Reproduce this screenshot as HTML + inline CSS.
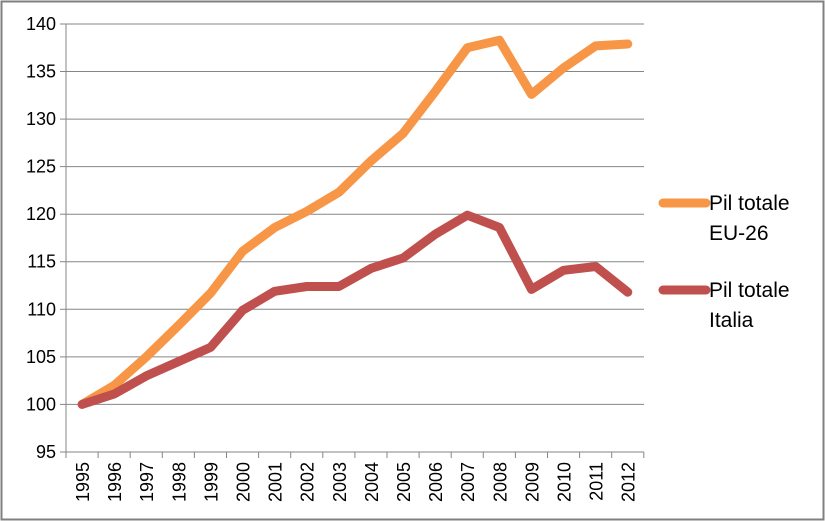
<!DOCTYPE html>
<html><head><style>body{margin:0;background:#fff}svg{display:block}text{font-family:"Liberation Sans",sans-serif;fill:#000}</style></head><body>
<svg width="825" height="521" viewBox="0 0 825 521" xmlns="http://www.w3.org/2000/svg">
<rect x="1.5" y="1.5" width="822" height="518" fill="#fff" stroke="#808080" stroke-width="2"/>
<g stroke="#868686" stroke-width="1">
<line x1="66" y1="24" x2="644" y2="24"/><line x1="66" y1="71.5" x2="644" y2="71.5"/><line x1="66" y1="119.1" x2="644" y2="119.1"/><line x1="66" y1="166.6" x2="644" y2="166.6"/><line x1="66" y1="214.2" x2="644" y2="214.2"/><line x1="66" y1="261.7" x2="644" y2="261.7"/><line x1="66" y1="309.3" x2="644" y2="309.3"/><line x1="66" y1="356.9" x2="644" y2="356.9"/><line x1="66" y1="404.4" x2="644" y2="404.4"/><line x1="60" y1="452" x2="644" y2="452"/>
<line x1="66" y1="24" x2="66" y2="452"/>
<line x1="60" y1="24" x2="66" y2="24"/><line x1="60" y1="71.5" x2="66" y2="71.5"/><line x1="60" y1="119.1" x2="66" y2="119.1"/><line x1="60" y1="166.6" x2="66" y2="166.6"/><line x1="60" y1="214.2" x2="66" y2="214.2"/><line x1="60" y1="261.7" x2="66" y2="261.7"/><line x1="60" y1="309.3" x2="66" y2="309.3"/><line x1="60" y1="356.9" x2="66" y2="356.9"/><line x1="60" y1="404.4" x2="66" y2="404.4"/>
<path d="M66 452v6M98.1 452v6M130.2 452v6M162.3 452v6M194.4 452v6M226.5 452v6M258.6 452v6M290.7 452v6M322.8 452v6M354.9 452v6M387 452v6M419.1 452v6M451.2 452v6M483.3 452v6M515.4 452v6M547.5 452v6M579.6 452v6M611.7 452v6M643.8 452v6"/>
</g>
<g font-size="18" text-anchor="end">
<text x="56" y="30">140</text><text x="56" y="77.5">135</text><text x="56" y="125">130</text><text x="56" y="172.6">125</text><text x="56" y="220.2">120</text><text x="56" y="267.7">115</text><text x="56" y="315.3">110</text><text x="56" y="362.9">105</text><text x="56" y="410.4">100</text><text x="56" y="458">95</text>
</g>
<g font-size="18" text-anchor="end">
<text transform="translate(89,462) rotate(-90)">1995</text><text transform="translate(121.1,462) rotate(-90)">1996</text><text transform="translate(153.2,462) rotate(-90)">1997</text><text transform="translate(185.3,462) rotate(-90)">1998</text><text transform="translate(217.4,462) rotate(-90)">1999</text><text transform="translate(249.5,462) rotate(-90)">2000</text><text transform="translate(281.6,462) rotate(-90)">2001</text><text transform="translate(313.7,462) rotate(-90)">2002</text><text transform="translate(345.8,462) rotate(-90)">2003</text><text transform="translate(377.9,462) rotate(-90)">2004</text><text transform="translate(410,462) rotate(-90)">2005</text><text transform="translate(442.1,462) rotate(-90)">2006</text><text transform="translate(474.2,462) rotate(-90)">2007</text><text transform="translate(506.3,462) rotate(-90)">2008</text><text transform="translate(538.4,462) rotate(-90)">2009</text><text transform="translate(570.5,462) rotate(-90)">2010</text><text transform="translate(602.6,462) rotate(-90)">2011</text><text transform="translate(634.7,462) rotate(-90)">2012</text>
</g>
<polyline fill="none" stroke="#F79646" stroke-width="9" stroke-linejoin="round" stroke-linecap="round" points="82.1,404.4 114.2,385.4 146.3,356.9 178.4,325.5 210.5,293.2 242.6,251.3 274.7,227.5 306.8,211.4 338.9,192.3 371,160.9 403.1,133.4 435.2,91.5 467.3,47.8 499.4,40.2 531.5,94.4 563.6,67.8 595.7,45.9 627.8,44"/>
<polyline fill="none" stroke="#C0504D" stroke-width="9" stroke-linejoin="round" stroke-linecap="round" points="82.1,404.4 114.2,394 146.3,375.9 178.4,361.6 210.5,347.4 242.6,310.3 274.7,291.3 306.8,286.5 338.9,286.5 371,268.4 403.1,258 435.2,234.2 467.3,215.2 499.4,227.5 531.5,289.4 563.6,270.3 595.7,266.5 627.8,292.2"/>
<line x1="663" y1="203" x2="706" y2="203" stroke="#F79646" stroke-width="9" stroke-linecap="round"/>
<line x1="663" y1="290" x2="706" y2="290" stroke="#C0504D" stroke-width="9" stroke-linecap="round"/>
<g font-size="21">
<text x="709" y="210">Pil totale</text><text x="709" y="240">EU-26</text>
<text x="709" y="297">Pil totale</text><text x="709" y="327">Italia</text>
</g>
</svg>
</body></html>
